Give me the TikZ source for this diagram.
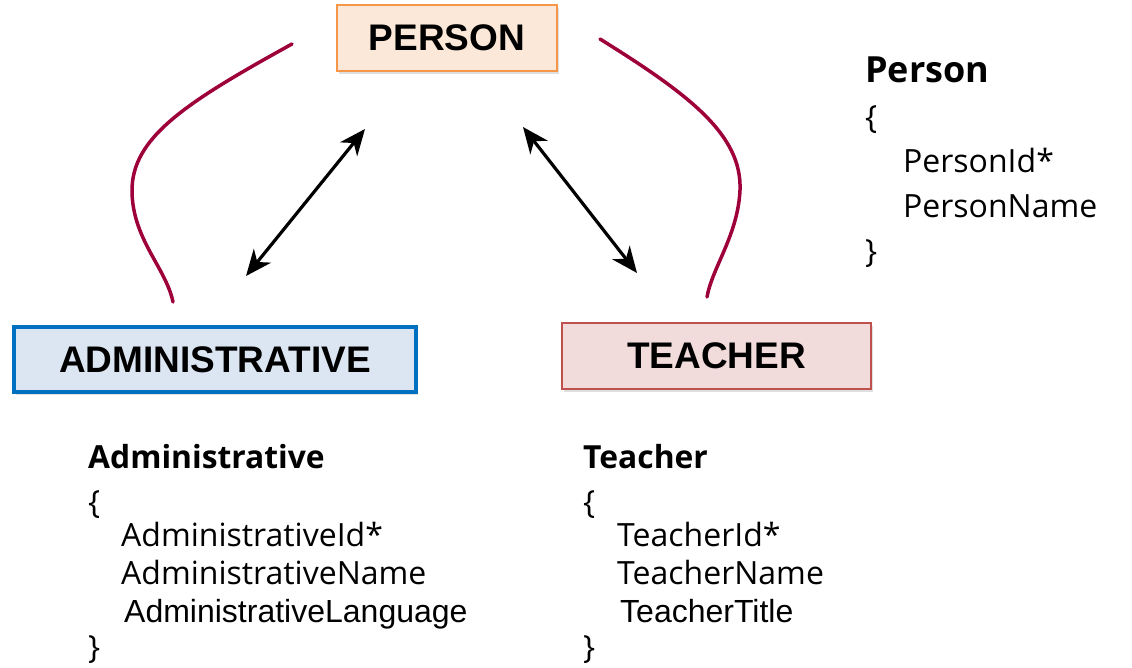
\documentclass[tikz,border=0pt]{standalone}
\usepackage{fontspec}
\setmainfont{Open Sans}
\newfontfamily\arialf{Liberation Sans}
\usetikzlibrary{shadows,arrows.meta}
\definecolor{perfill}{RGB}{252,232,216}
\definecolor{perdraw}{RGB}{247,150,70}
\definecolor{admfill}{RGB}{220,230,242}
\definecolor{admdraw}{RGB}{0,112,192}
\definecolor{teafill}{RGB}{242,220,219}
\definecolor{teadraw}{RGB}{192,80,77}
\definecolor{curvecol}{RGB}{158,0,58}
\tikzset{
  entbox/.style={rectangle, inner sep=0pt, font=\fontsize{37}{40}\selectfont\arialf\bfseries,
    drop shadow={shadow xshift=2pt, shadow yshift=-3pt, opacity=0.25}},
  txt/.style={anchor=base west, inner sep=0pt, font=\fontsize{32}{38}\selectfont},
  ttl/.style={anchor=base west, inner sep=0pt, font=\fontsize{31.8}{38}\selectfont\bfseries},
  atxt/.style={anchor=base west, inner sep=0pt, font=\fontsize{32}{38}\selectfont\arialf},
  rel/.style={line width=3.2pt, {Stealth[length=26pt,width=22pt,inset=8pt]}-{Stealth[length=26pt,width=22pt,inset=8pt]}},
  inh/.style={line width=3.5pt, curvecol, line cap=round}
}
\begin{document}
\begin{tikzpicture}[x=1pt,y=-1pt]
\useasboundingbox (0,0) rectangle (1132,667);
% boxes
\node[entbox, fill=perfill, draw=perdraw, line width=2pt, minimum width=220pt, minimum height=66pt] (person) at (447,37.5) {PERSON};
\node[entbox, fill=admfill, draw=admdraw, line width=4pt, minimum width=402pt, minimum height=65pt] (admin) at (215,359.5) {ADMINISTRATIVE};
\node[entbox, fill=teafill, draw=teadraw, line width=1.5pt, minimum width=309pt, minimum height=66pt] (teacher) at (716.5,356) {TEACHER};
% relation arrows
\coordinate (la) at (365,129);
\coordinate (lb) at (246,276);
\coordinate (ra) at (523,127);
\coordinate (rb) at (637,273);
\draw[rel] (lb) -- (la);
\draw[rel] (ra) -- (rb);
% inheritance curves
\coordinate (lc1) at (292,44);
\coordinate (lc2) at (132,192);
\coordinate (lc3) at (173,302);
\coordinate (rc1) at (600,39);
\coordinate (rc2) at (740,190);
\coordinate (rc3) at (707,297);
\draw[inh] (lc1) .. controls (185,103) and (131,138) .. (lc2) .. controls (133,240) and (166,268) .. (lc3);
\draw[inh] (rc1) .. controls (690,95) and (742,135) .. (rc2) .. controls (738,235) and (712,268) .. (rc3);
% Person structure
\node[ttl, font=\fontsize{36}{40}\selectfont\bfseries] (pt) at (865,82) {Person};
\node[txt] (po) at (865,128) {\{};
\node[txt] (p1) at (903,172) {PersonId*};
\node[txt] (p2) at (903,217) {PersonName};
\node[txt] (pc) at (865,262) {\}};
% Administrative structure
\node[ttl] (at) at (88,468) {Administrative};
\node[txt] (ao) at (88,513) {\{};
\node[txt] (a1) at (121,546) {AdministrativeId*};
\node[txt] (a2) at (121,584) {AdministrativeName};
\node[atxt] (a3) at (124,622) {AdministrativeLanguage};
\node[txt] (ac) at (88,658) {\}};
% Teacher structure
\node[ttl] (tt) at (583,468) {Teacher};
\node[txt] (to) at (583,513) {\{};
\node[txt] (t1) at (617,546) {TeacherId*};
\node[txt] (t2) at (617,584) {TeacherName};
\node[atxt] (t3) at (620,622) {TeacherTitle};
\node[txt] (tc) at (583,658) {\}};
\end{tikzpicture}
\end{document}
